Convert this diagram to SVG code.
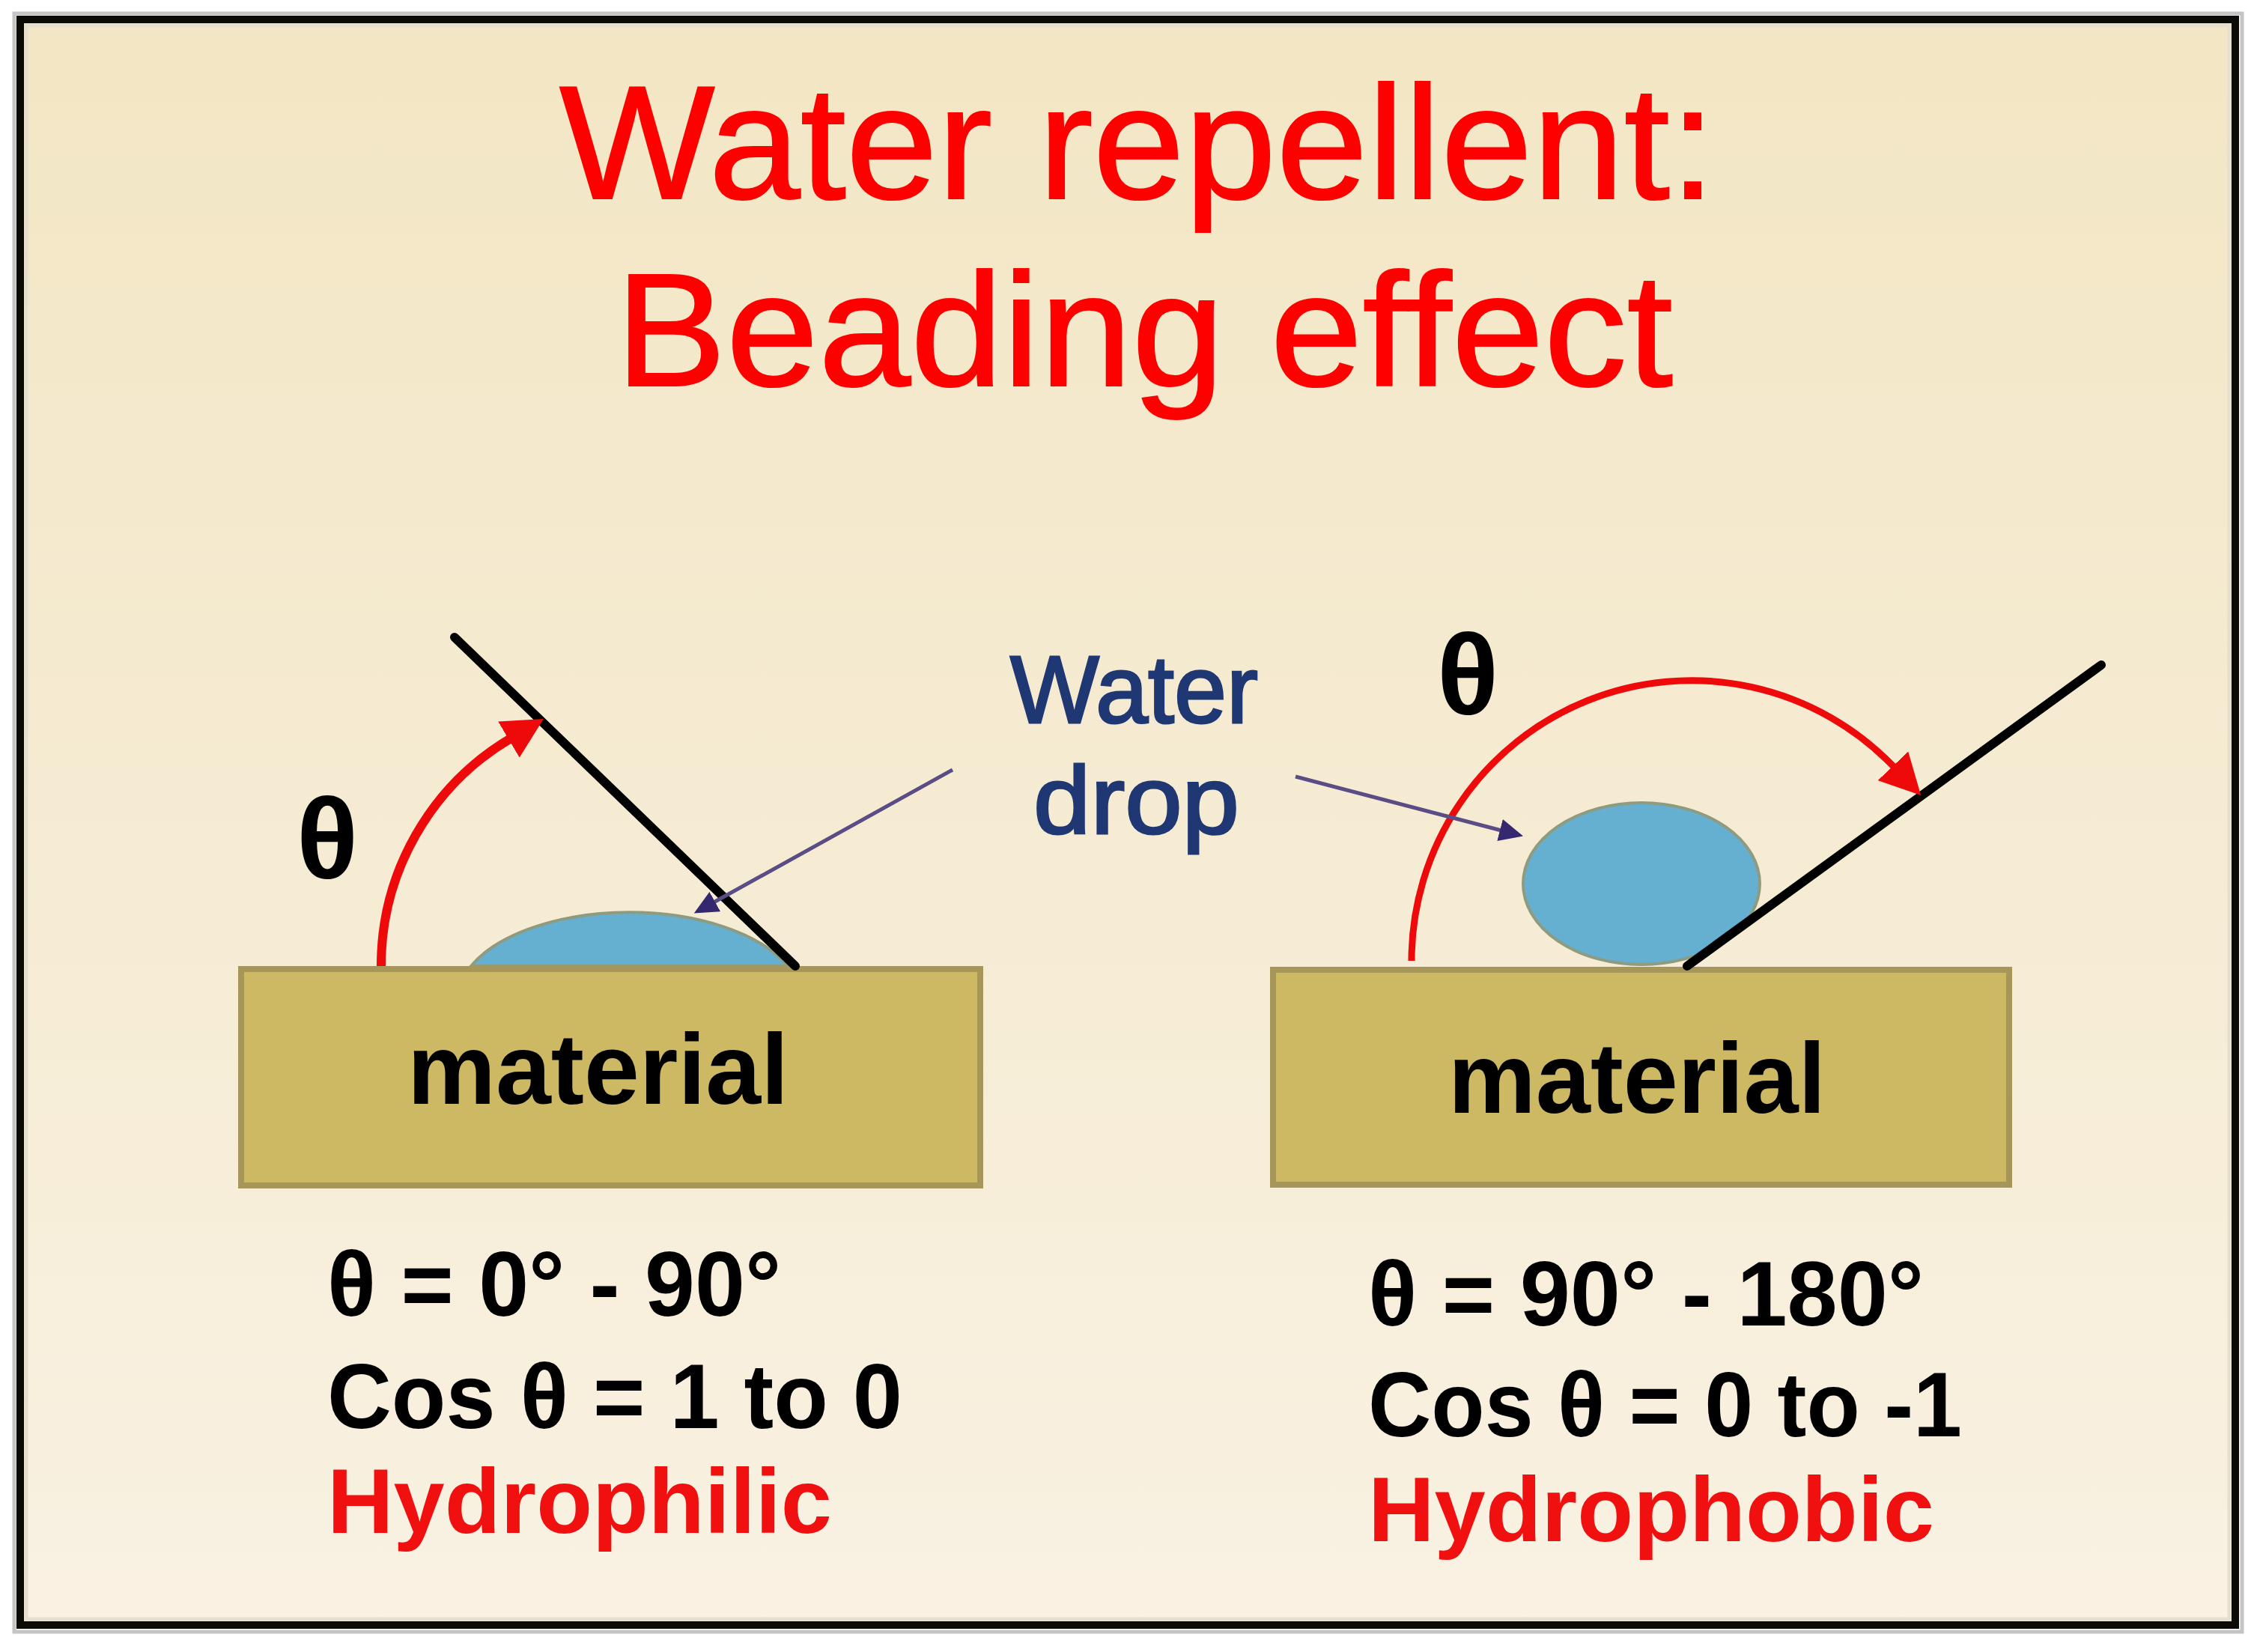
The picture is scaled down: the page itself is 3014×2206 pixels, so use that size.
<svg xmlns="http://www.w3.org/2000/svg" width="3014" height="2206" viewBox="0 0 3014 2206">
  <defs>
    <linearGradient id="bg" x1="0" y1="0" x2="0" y2="1">
      <stop offset="0" stop-color="#f2e6c4"/>
      <stop offset="1" stop-color="#f9f1e2"/>
    </linearGradient>
    <marker id="redArrow" markerUnits="userSpaceOnUse" viewBox="0 0 54 56" markerWidth="54" markerHeight="56" refX="3" refY="28" orient="auto">
      <path d="M0,0 L54,28 L0,56 Z" fill="#ee0a0a"/>
    </marker>
    <marker id="purpleArrow" markerUnits="userSpaceOnUse" viewBox="0 0 32 30" markerWidth="32" markerHeight="30" refX="2" refY="15" orient="auto">
      <path d="M0,0 L32,15 L0,30 Z" fill="#35286e"/>
    </marker>
    <style>
      .title { font-family: "Liberation Sans", Arial, sans-serif; font-size: 216px; fill: #ff0000; stroke: #ff0000; stroke-width: 2; }
      .mat { fill: #cdb864; stroke: #a6965a; stroke-width: 8; }
      .matLabel { font-family: "Liberation Sans", Arial, sans-serif; font-weight: bold; font-size: 134px; fill: #000; }
      .drop { fill: #65afd1; stroke: #8f9b7e; stroke-width: 4; }
      .tangent { stroke: #000; stroke-width: 12; fill: none; stroke-linecap: round; }
      .angle { stroke: #ee0a0a; fill: none; marker-end: url(#redArrow); }
      .pointer { stroke: #5a4d86; stroke-width: 5; fill: none; marker-end: url(#purpleArrow); }
      .theta { font-family: "Liberation Sans", Arial, sans-serif; font-weight: bold; font-size: 152px; fill: #000; text-anchor: middle; }
      .label { font-family: "Liberation Sans", Arial, sans-serif; font-size: 128px; fill: #1f3873; stroke: #1f3873; stroke-width: 3; }
      .info { font-family: "Liberation Sans", Arial, sans-serif; font-weight: bold; font-size: 122px; fill: #000; }
      .red { fill: #f01010; }
    </style>
  </defs>

  <rect x="0" y="0" width="3014" height="2206" fill="#ffffff"/>
  <g id="frame">
    <rect x="19" y="18" width="2975" height="2161" fill="none" stroke="#c4c4c4" stroke-width="5"/>
    <rect x="27" y="26" width="2958" height="2144" fill="url(#bg)" stroke="#0c0a05" stroke-width="10"/>
    <rect x="35" y="34" width="2942" height="2128" fill="none" stroke="#e6dfcf" stroke-width="5"/>
  </g>

  <g id="title">
    <text class="title" x="747" y="265" textLength="1544" lengthAdjust="spacingAndGlyphs">Water repellent:</text>
    <text class="title" x="822" y="515" textLength="1412" lengthAdjust="spacingAndGlyphs">Beading effect</text>
  </g>

  <g id="left-drop">
    <path class="drop" d="M629,1290 A230,118 0 0 1 1052,1290 Z"/>
  </g>
  <g id="right-drop">
    <ellipse class="drop" cx="2192" cy="1180" rx="158" ry="108"/>
  </g>

  <g id="left-material">
    <rect class="mat" x="322" y="1294" width="987" height="289"/>
    <text class="matLabel" x="544" y="1474" textLength="509" lengthAdjust="spacingAndGlyphs">material</text>
  </g>
  <g id="right-material">
    <rect class="mat" x="1700" y="1295" width="983" height="287"/>
    <text class="matLabel" x="1934" y="1486" textLength="504" lengthAdjust="spacingAndGlyphs">material</text>
  </g>

  <g id="tangent-lines">
    <line class="tangent" x1="607" y1="851" x2="1062" y2="1290"/>
    <line class="tangent" x1="2253" y1="1290" x2="2806" y2="888"/>
  </g>

  <g id="connectors">
    <path class="angle" stroke-width="12" d="M509,1290 A353,353 0 0 1 682,986"/>
    <path class="angle" stroke-width="9" d="M1885,1283 A374,374 0 0 1 2530,1025"/>
    <line class="pointer" x1="1272" y1="1028" x2="953" y2="1205"/>
    <line class="pointer" x1="1730" y1="1037" x2="2005" y2="1109"/>
  </g>

  <g id="theta-left">
    <text class="theta" x="437" y="1172">θ</text>
  </g>
  <g id="theta-right">
    <text class="theta" x="1960" y="953">θ</text>
  </g>

  <g id="water-drop-label">
    <text class="label" x="1349" y="965" textLength="331" lengthAdjust="spacingAndGlyphs">Water</text>
    <text class="label" x="1380" y="1113" textLength="275" lengthAdjust="spacingAndGlyphs">drop</text>
  </g>

  <g id="left-info">
    <text class="info" x="437" y="1757" textLength="606" lengthAdjust="spacingAndGlyphs">θ = 0° - 90°</text>
    <text class="info" x="437" y="1907" textLength="768" lengthAdjust="spacingAndGlyphs">Cos θ = 1 to 0</text>
    <text class="info red" x="437" y="2047" textLength="674" lengthAdjust="spacingAndGlyphs">Hydrophilic</text>
  </g>
  <g id="right-info">
    <text class="info" x="1827" y="1770" textLength="742" lengthAdjust="spacingAndGlyphs">θ = 90° - 180°</text>
    <text class="info" x="1827" y="1918" textLength="793" lengthAdjust="spacingAndGlyphs">Cos θ = 0 to -1</text>
    <text class="info red" x="1827" y="2058" textLength="756" lengthAdjust="spacingAndGlyphs">Hydrophobic</text>
  </g>
</svg>
